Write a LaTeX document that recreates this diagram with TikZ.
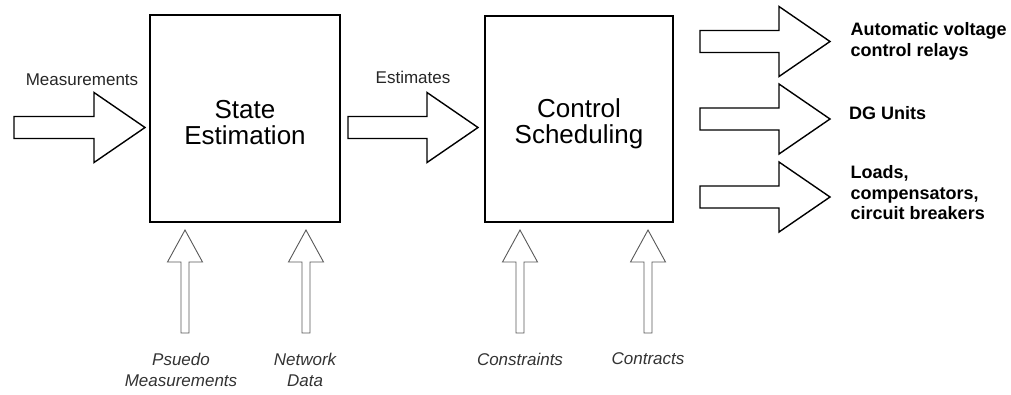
\documentclass[tikz,border=0pt]{standalone}
\usepackage{fontspec}
\setmainfont{Liberation Sans}
\usetikzlibrary{calc}

\tikzset{
  blockbox/.style={draw=black, line width=1.5pt, fill=white, outer sep=0pt},
  blocktext/.style={align=center, inner sep=0pt, font=\fontsize{26}{26}\selectfont},
  harrow/.style={draw=black, line width=1.4pt, fill=white, line join=miter},
  varrow/.style={draw=black!65, line width=0.9pt, fill=white, line join=miter},
  flowlabel/.style={font=\fontsize{17}{21}\selectfont, text=black!85, inner sep=0pt},
  inputlabel/.style={font=\fontsize{17}{21}\selectfont\itshape, text=black!80,
    align=center, inner sep=0pt, anchor=north},
  outlabel/.style={font=\fontsize{18}{20.8}\selectfont\bfseries, align=left,
    inner sep=0pt, anchor=north west},
}

% Horizontal block arrow from a tail coordinate to a tip coordinate
\newcommand\rightblock[2]{%
  \draw[harrow] let \p1=(#1), \p2=(#2) in
    (\x1,\y1+11pt) -- (\x2-51pt,\y1+11pt) -- (\x2-51pt,\y1+35pt) -- (\x2,\y1)
    -- (\x2-51pt,\y1-35pt) -- (\x2-51pt,\y1-11pt) -- (\x1,\y1-11pt) -- cycle;}

% Upward block arrow from a tail coordinate to a tip coordinate
\newcommand\upblock[2]{%
  \draw[varrow] let \p1=(#1), \p2=(#2) in
    (\x2-4pt,\y1) -- (\x2-4pt,\y2-32pt) -- (\x2-17.5pt,\y2-32pt) -- (\x2,\y2)
    -- (\x2+17.5pt,\y2-32pt) -- (\x2+4pt,\y2-32pt) -- (\x2+4pt,\y1) -- cycle;}

\begin{document}
\begin{tikzpicture}[x=1pt, y=-1pt]
\useasboundingbox (0,0) rectangle (1011,394);

% Processing blocks
\node[blockbox, minimum width=190pt, minimum height=207pt] (se) at (245,118.5) {};
\node[blockbox, minimum width=188pt, minimum height=206pt] (cs) at (579,119) {};
\node[blocktext] (se-text) at ($(se.center)+(0,4.5)$) {State\\Estimation};
\node[blocktext] (cs-text) at ($(cs.center)+(0,4.5)$) {Control\\Scheduling};

% Measurements into state estimation
\coordinate (meas-tail) at (14,127.5);
\coordinate (meas-tip) at ($(se.west |- meas-tail)+(-5,0)$);
\rightblock{meas-tail}{meas-tip}
\node[flowlabel, anchor=base] (meas-label) at (82,85) {Measurements};

% Estimates passed on to scheduling
\coordinate (est-tail) at ($(se.east |- meas-tail)+(8,0)$);
\coordinate (est-tip) at ($(cs.west |- meas-tail)+(-7,0)$);
\rightblock{est-tail}{est-tip}
\node[flowlabel, anchor=base] (est-label) at (413,83.5) {Estimates};

% Control outputs
\coordinate (out-tail) at ($(cs.east)+(27,0)$);
\coordinate (avc-tail) at (out-tail |- 0,41.5);
\coordinate (avc-tip) at (830,41.5);
\coordinate (dg-tail) at (out-tail |- 0,119);
\coordinate (dg-tip) at (830,119);
\coordinate (load-tail) at (out-tail |- 0,197);
\coordinate (load-tip) at (830,197);
\rightblock{avc-tail}{avc-tip}
\rightblock{dg-tail}{dg-tip}
\rightblock{load-tail}{load-tip}
\node[outlabel] (avc-label) at (850.5,22) {Automatic voltage\\control relays};
\node[outlabel] (dg-label) at (849,106) {DG Units};
\node[outlabel] (load-label) at (850.5,165) {Loads,\\compensators,\\circuit breakers};

% Auxiliary inputs from below
\coordinate (pm-tip) at ($(se.south west)+(35,8)$);
\coordinate (nd-tip) at ($(se.south west)+(156,8)$);
\coordinate (con-tip) at ($(cs.south west)+(35,8)$);
\coordinate (ctr-tip) at ($(cs.south west)+(163,8)$);
\coordinate (pm-tail) at (pm-tip |- 0,333);
\coordinate (nd-tail) at (nd-tip |- 0,333);
\coordinate (con-tail) at (con-tip |- 0,333);
\coordinate (ctr-tail) at (ctr-tip |- 0,333);
\upblock{pm-tail}{pm-tip}
\upblock{nd-tail}{nd-tip}
\upblock{con-tail}{con-tip}
\upblock{ctr-tail}{ctr-tip}
\node[inputlabel] (pm-label) at (181,352.5) {Psuedo\\Measurements};
\node[inputlabel] (nd-label) at (305,352.5) {Network\\Data};
\node[inputlabel] (con-label) at (520,352.5) {Constraints};
\node[inputlabel] (ctr-label) at (648,352.5) {Contracts};
\end{tikzpicture}
\end{document}
